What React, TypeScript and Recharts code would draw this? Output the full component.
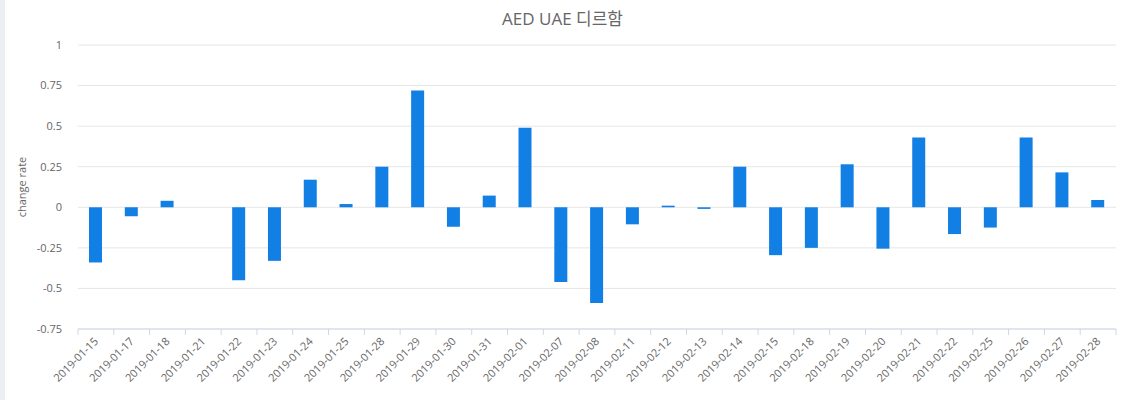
import { BarChart, Bar, XAxis, YAxis, CartesianGrid, Label } from "recharts";

const dates = [
  "2019-01-15", "2019-01-17", "2019-01-18", "2019-01-21", "2019-01-22", "2019-01-23",
  "2019-01-24", "2019-01-25", "2019-01-28", "2019-01-29", "2019-01-30", "2019-01-31",
  "2019-02-01", "2019-02-07", "2019-02-08", "2019-02-11", "2019-02-12", "2019-02-13",
  "2019-02-14", "2019-02-15", "2019-02-18", "2019-02-19", "2019-02-20", "2019-02-21",
  "2019-02-22", "2019-02-25", "2019-02-26", "2019-02-27", "2019-02-28",
];

const rates = [
  -0.34, -0.055, 0.04, 0, -0.45, -0.33,
  0.17, 0.02, 0.25, 0.72, -0.12, 0.072,
  0.49, -0.46, -0.59, -0.105, 0.01, -0.01,
  0.25, -0.295, -0.25, 0.265, -0.255, 0.43,
  -0.165, -0.125, 0.43, 0.215, 0.045,
];

const yTicks = [-0.75, -0.5, -0.25, 0, 0.25, 0.5, 0.75, 1];

const data = dates.map((d, i) => ({ date: d, rate: rates[i] }));

const W = 1125;
const H = 400;
const PLOT_LEFT = 78;
const PLOT_RIGHT = 1116;
const PLOT_TOP = 45;
const PLOT_BOTTOM = 329;
const band = (PLOT_RIGHT - PLOT_LEFT) / dates.length;
const font = "'Open Sans', 'Noto Sans CJK KR', sans-serif";

function DateTick(props: any) {
  const { x, payload, index } = props;
  const last = index === dates.length - 1;
  const top = PLOT_BOTTOM;
  return (
    <g>
      <line x1={x - band / 2} y1={top} x2={x - band / 2} y2={top + 6} stroke="#ccd6eb" />
      {last && <line x1={x + band / 2} y1={top} x2={x + band / 2} y2={top + 6} stroke="#ccd6eb" />}
      <text
        x={x + 3}
        y={top + 13}
        textAnchor="end"
        transform={`rotate(-45, ${x + 3}, ${top + 13})`}
        fill="#666666"
        fontSize={11}
        fontFamily={font}
      >
        {payload.value}
      </text>
    </g>
  );
}

export default function App() {
  return (
    <div style={{ position: "relative", width: W, height: H, background: "#fff" }}>
      <style>{`body{margin:0}`}</style>
      <div style={{ position: "absolute", left: 0, top: 0, width: 5, height: H, background: "#eceef3" }} />
      <div
        style={{
          position: "absolute",
          top: 5,
          width: W,
          textAlign: "center",
          fontFamily: font,
          fontSize: 17,
          color: "#666",
        }}
      >
        AED UAE 디르함
      </div>
      <BarChart
        width={W}
        height={H}
        data={data}
        margin={{ top: PLOT_TOP, right: W - PLOT_RIGHT, left: 0, bottom: 0 }}
      >
        <CartesianGrid vertical={false} stroke="#e6e6e6" />
        <XAxis
          dataKey="date"
          height={H - PLOT_BOTTOM}
          interval={0}
          tick={<DateTick />}
          tickLine={false}
          axisLine={{ stroke: "#ccd6eb" }}
        />
        <YAxis
          width={PLOT_LEFT}
          domain={[-0.75, 1]}
          ticks={yTicks}
          interval={0}
          axisLine={false}
          tickLine={false}
          tick={{ fill: "#666", fontSize: 11, fontFamily: font }}
          tickMargin={10}
        >
          <Label
            value="change rate"
            angle={-90}
            position="insideLeft"
            offset={22}
            style={{ fill: "#666", fontSize: 11, fontFamily: font, textAnchor: "middle" }}
          />
        </YAxis>
        <Bar dataKey="rate" fill="#127fe4" barSize={13} isAnimationActive={false} />
      </BarChart>
    </div>
  );
}
